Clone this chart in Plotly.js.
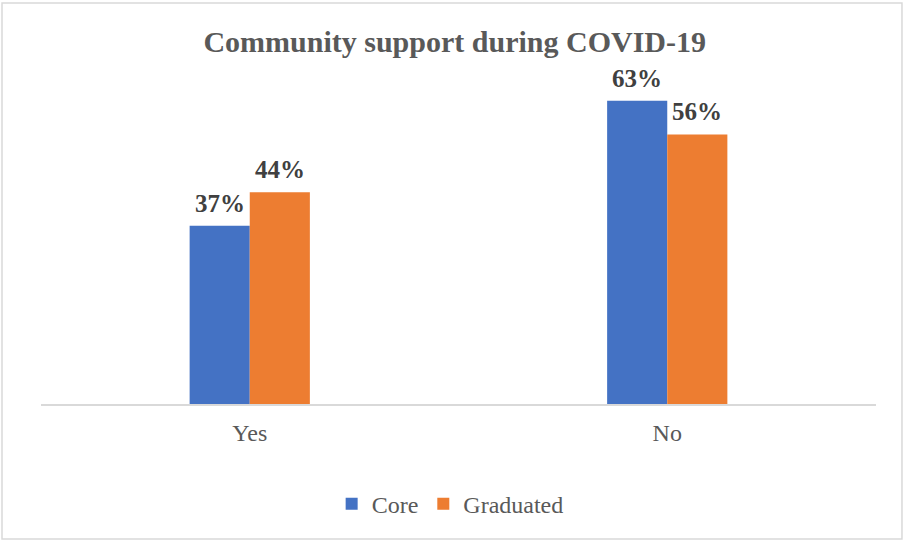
<!DOCTYPE html>
<html>
<head>
<meta charset="utf-8">
<script src="https://cdn.plot.ly/plotly-3.0.1.min.js"></script>
<style>html,body{margin:0;padding:0;background:#fff;}#chart{width:904px;height:541px;}</style>
</head>
<body>
<div id="chart"></div>
<script>
const categories = ["Yes", "No"];
const coreValues = [37, 63];
const graduatedValues = [44, 56];
const seriesNames = ["Core", "Graduated"];
const seriesColors = ["#4472C4", "#ED7D31"];

const serif = "Liberation Serif, Times New Roman, serif";
const labelFont = {family: serif, size: 25, color: "#404040", weight: "bold"};
const plainFont = {family: serif, size: 24, color: "#595959"};

const traces = [
  {type: "bar", name: seriesNames[0], x: categories, y: coreValues,
   marker: {color: seriesColors[0]}, hoverinfo: "skip"},
  {type: "bar", name: seriesNames[1], x: categories, y: graduatedValues,
   marker: {color: seriesColors[1]}, hoverinfo: "skip"}
];

const annotations = [];
[coreValues, graduatedValues].forEach((vals, s) => {
  vals.forEach((v, i) => {
    annotations.push({x: categories[i], y: v, xref: "x", yref: "y",
      text: v + "%", showarrow: false, xshift: s === 0 ? -30 : 30,
      yanchor: "bottom", yshift: 7, font: labelFont});
  });
});

const layout = {
  width: 904, height: 541,
  font: plainFont,
  margin: {l: 41, r: 28, t: 67, b: 137},
  paper_bgcolor: "#fff", plot_bgcolor: "#fff",
  barmode: "group", bargap: 0.712, bargroupgap: 0,
  title: {text: "Community support during COVID-19", x: 0.503, xanchor: "center",
          y: 0.924, yanchor: "middle",
          font: {family: serif, size: 30, color: "#595959", weight: "bold"}},
  xaxis: {showline: true, linecolor: "#d9d9d9", linewidth: 1.5, ticks: "",
          ticklabelstandoff: 7,
          tickfont: plainFont, showgrid: false, zeroline: false},
  yaxis: {range: [0, 70], showgrid: false, zeroline: false, showticklabels: false, showline: false, ticks: ""},
  showlegend: true,
  legend: {orientation: "h", x: 0.49, xanchor: "center", y: -0.297, yanchor: "middle",
           font: plainFont, traceorder: "normal"},
  annotations: annotations,
  shapes: [{type: "rect", xref: "paper", yref: "paper",
            x0: -0.0467, x1: 1.0311, y0: -0.4006, y1: 1.19,
            line: {color: "#d9d9d9", width: 1.5}, fillcolor: "rgba(0,0,0,0)", layer: "below"}]
};

Plotly.newPlot("chart", traces, layout, {displayModeBar: false, staticPlot: true});
</script>
</body>
</html>
